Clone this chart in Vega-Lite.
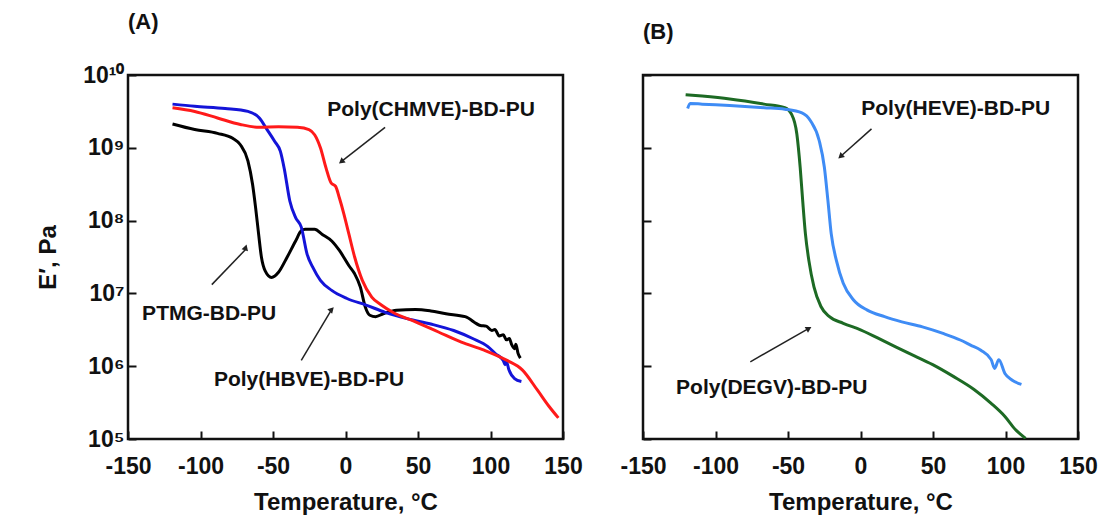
{
  "$schema": "https://vega.github.io/schema/vega-lite/v6.json",
  "background": "white",
  "padding": {"left": 35, "top": 9, "right": 5, "bottom": 0},
  "datasets": {
    "A": [
      {"series": "PTMG", "T": -119.3, "E": 2.12e9}, {"series": "PTMG", "T": -104, "E": 1.78e9}, {"series": "PTMG", "T": -88.3, "E": 1.58e9}, {"series": "PTMG", "T": -77.8, "E": 1.35e9}, {"series": "PTMG", "T": -72.5, "E": 1.10e9}, {"series": "PTMG", "T": -67.3, "E": 6.61e8}, {"series": "PTMG", "T": -64.1, "E": 3.16e8}, {"series": "PTMG", "T": -62, "E": 1.51e8}, {"series": "PTMG", "T": -59.9, "E": 6.46e7}, {"series": "PTMG", "T": -58, "E": 3.16e7}, {"series": "PTMG", "T": -55.4, "E": 2.04e7}, {"series": "PTMG", "T": -51, "E": 1.66e7}, {"series": "PTMG", "T": -46.2, "E": 1.95e7}, {"series": "PTMG", "T": -41, "E": 2.95e7}, {"series": "PTMG", "T": -34.4, "E": 5.25e7}, {"series": "PTMG", "T": -30.5, "E": 7.24e7}, {"series": "PTMG", "T": -27.8, "E": 7.59e7}, {"series": "PTMG", "T": -21.3, "E": 7.59e7}, {"series": "PTMG", "T": -16, "E": 6.46e7}, {"series": "PTMG", "T": -9.5, "E": 5.25e7}, {"series": "PTMG", "T": -4.2, "E": 3.89e7}, {"series": "PTMG", "T": 2.4, "E": 2.40e7}, {"series": "PTMG", "T": 6.3, "E": 1.86e7}, {"series": "PTMG", "T": 10.2, "E": 1.23e7}, {"series": "PTMG", "T": 13.7, "E": 6.46e6}, {"series": "PTMG", "T": 16.8, "E": 5.01e6}, {"series": "PTMG", "T": 20.8, "E": 4.79e6}, {"series": "PTMG", "T": 26, "E": 5.25e6}, {"series": "PTMG", "T": 35.2, "E": 5.89e6}, {"series": "PTMG", "T": 48.3, "E": 6.03e6}, {"series": "PTMG", "T": 58.8, "E": 5.75e6}, {"series": "PTMG", "T": 69.3, "E": 5.25e6}, {"series": "PTMG", "T": 82.5, "E": 4.79e6}, {"series": "PTMG", "T": 93, "E": 3.63e6}, {"series": "PTMG", "T": 97, "E": 3.55e6}, {"series": "PTMG", "T": 100.9, "E": 3.09e6}, {"series": "PTMG", "T": 103, "E": 3.2e6}, {"series": "PTMG", "T": 106, "E": 2.6e6}, {"series": "PTMG", "T": 108.8, "E": 2.7e6}, {"series": "PTMG", "T": 111, "E": 2.3e6}, {"series": "PTMG", "T": 113, "E": 2.4e6}, {"series": "PTMG", "T": 114.5, "E": 2.0e6}, {"series": "PTMG", "T": 116.6, "E": 1.74e6}, {"series": "PTMG", "T": 117.5, "E": 2.0e6}, {"series": "PTMG", "T": 119, "E": 1.5e6}, {"series": "PTMG", "T": 120.6, "E": 1.29e6},
      {"series": "HBVE", "T": -119.3, "E": 3.98e9}, {"series": "HBVE", "T": -104, "E": 3.72e9}, {"series": "HBVE", "T": -83, "E": 3.47e9}, {"series": "HBVE", "T": -67.3, "E": 3.16e9}, {"series": "HBVE", "T": -59.4, "E": 2.57e9}, {"series": "HBVE", "T": -54.1, "E": 1.78e9}, {"series": "HBVE", "T": -48.9, "E": 1.23e9}, {"series": "HBVE", "T": -44.9, "E": 8.91e8}, {"series": "HBVE", "T": -42.3, "E": 5.25e8}, {"series": "HBVE", "T": -38.4, "E": 1.86e8}, {"series": "HBVE", "T": -34.4, "E": 1.10e8}, {"series": "HBVE", "T": -30.5, "E": 8.13e7}, {"series": "HBVE", "T": -26.5, "E": 3.47e7}, {"series": "HBVE", "T": -22.6, "E": 2.29e7}, {"series": "HBVE", "T": -17.3, "E": 1.51e7}, {"series": "HBVE", "T": -9.5, "E": 1.10e7}, {"series": "HBVE", "T": 1, "E": 8.51e6}, {"series": "HBVE", "T": 14.2, "E": 6.92e6}, {"series": "HBVE", "T": 27.3, "E": 5.50e6}, {"series": "HBVE", "T": 43.1, "E": 4.47e6}, {"series": "HBVE", "T": 58.8, "E": 3.80e6}, {"series": "HBVE", "T": 74.6, "E": 3.09e6}, {"series": "HBVE", "T": 87.7, "E": 2.40e6}, {"series": "HBVE", "T": 98.2, "E": 1.86e6}, {"series": "HBVE", "T": 103.5, "E": 1.48e6}, {"series": "HBVE", "T": 108.8, "E": 1.20e6}, {"series": "HBVE", "T": 110, "E": 1.05e6}, {"series": "HBVE", "T": 111, "E": 1.15e6}, {"series": "HBVE", "T": 112.7, "E": 8.91e5}, {"series": "HBVE", "T": 116.6, "E": 6.76e5}, {"series": "HBVE", "T": 121.3, "E": 6.17e5},
      {"series": "CHMVE", "T": -119.3, "E": 3.55e9}, {"series": "CHMVE", "T": -104, "E": 3.16e9}, {"series": "CHMVE", "T": -88.3, "E": 2.57e9}, {"series": "CHMVE", "T": -72.5, "E": 2.09e9}, {"series": "CHMVE", "T": -59.4, "E": 1.91e9}, {"series": "CHMVE", "T": -46.2, "E": 1.95e9}, {"series": "CHMVE", "T": -33.1, "E": 1.91e9}, {"series": "CHMVE", "T": -25.2, "E": 1.78e9}, {"series": "CHMVE", "T": -21.3, "E": 1.51e9}, {"series": "CHMVE", "T": -17.3, "E": 1.0e9}, {"series": "CHMVE", "T": -13.4, "E": 5.25e8}, {"series": "CHMVE", "T": -10, "E": 3.31e8}, {"series": "CHMVE", "T": -6.8, "E": 2.95e8}, {"series": "CHMVE", "T": -4.2, "E": 2.04e8}, {"series": "CHMVE", "T": -1.1, "E": 1.23e8}, {"series": "CHMVE", "T": 2.4, "E": 6.46e7}, {"series": "CHMVE", "T": 6.3, "E": 3.16e7}, {"series": "CHMVE", "T": 11.6, "E": 1.51e7}, {"series": "CHMVE", "T": 18.1, "E": 8.91e6}, {"series": "CHMVE", "T": 24.7, "E": 6.92e6}, {"series": "CHMVE", "T": 32.6, "E": 5.50e6}, {"series": "CHMVE", "T": 48.3, "E": 4.07e6}, {"series": "CHMVE", "T": 64.1, "E": 2.95e6}, {"series": "CHMVE", "T": 79.9, "E": 2.14e6}, {"series": "CHMVE", "T": 95.6, "E": 1.66e6}, {"series": "CHMVE", "T": 111.4, "E": 1.20e6}, {"series": "CHMVE", "T": 121.9, "E": 8.91e5}, {"series": "CHMVE", "T": 132.4, "E": 4.68e5}, {"series": "CHMVE", "T": 140.3, "E": 2.82e5}, {"series": "CHMVE", "T": 146.8, "E": 1.95e5}
    ],
    "B": [
      {"series": "DEGV", "T": -120.6, "E": 5.37e9}, {"series": "DEGV", "T": -109.2, "E": 5.13e9}, {"series": "DEGV", "T": -90.2, "E": 4.68e9}, {"series": "DEGV", "T": -66.5, "E": 3.98e9}, {"series": "DEGV", "T": -52.2, "E": 3.55e9}, {"series": "DEGV", "T": -47.5, "E": 2.88e9}, {"series": "DEGV", "T": -43.9, "E": 1.55e9}, {"series": "DEGV", "T": -41.6, "E": 5.37e8}, {"series": "DEGV", "T": -39.9, "E": 1.91e8}, {"series": "DEGV", "T": -38, "E": 6.61e7}, {"series": "DEGV", "T": -35.6, "E": 2.82e7}, {"series": "DEGV", "T": -32.1, "E": 1.23e7}, {"series": "DEGV", "T": -27.3, "E": 6.61e6}, {"series": "DEGV", "T": -21.4, "E": 4.79e6}, {"series": "DEGV", "T": -11.9, "E": 3.89e6}, {"series": "DEGV", "T": 0, "E": 3.16e6}, {"series": "DEGV", "T": 16.6, "E": 2.19e6}, {"series": "DEGV", "T": 33.2, "E": 1.51e6}, {"series": "DEGV", "T": 49.8, "E": 1.05e6}, {"series": "DEGV", "T": 64, "E": 7.24e5}, {"series": "DEGV", "T": 78.3, "E": 4.79e5}, {"series": "DEGV", "T": 90.1, "E": 3.09e5}, {"series": "DEGV", "T": 99.6, "E": 2.04e5}, {"series": "DEGV", "T": 106.8, "E": 1.35e5}, {"series": "DEGV", "T": 113.9, "E": 1.02e5},
      {"series": "HEVE", "T": -119.2, "E": 3.47e9}, {"series": "HEVE", "T": -117.5, "E": 4.07e9}, {"series": "HEVE", "T": -109.2, "E": 3.98e9}, {"series": "HEVE", "T": -90.2, "E": 3.80e9}, {"series": "HEVE", "T": -66.5, "E": 3.55e9}, {"series": "HEVE", "T": -52.2, "E": 3.39e9}, {"series": "HEVE", "T": -40.4, "E": 3.02e9}, {"series": "HEVE", "T": -34.4, "E": 2.34e9}, {"series": "HEVE", "T": -28.5, "E": 1.26e9}, {"series": "HEVE", "T": -24.9, "E": 5.37e8}, {"series": "HEVE", "T": -22.5, "E": 1.91e8}, {"series": "HEVE", "T": -20.2, "E": 6.61e7}, {"series": "HEVE", "T": -16.6, "E": 2.82e7}, {"series": "HEVE", "T": -11.9, "E": 1.38e7}, {"series": "HEVE", "T": -4.8, "E": 8.13e6}, {"series": "HEVE", "T": 4.7, "E": 5.89e6}, {"series": "HEVE", "T": 16.6, "E": 4.79e6}, {"series": "HEVE", "T": 28.5, "E": 4.07e6}, {"series": "HEVE", "T": 42.7, "E": 3.47e6}, {"series": "HEVE", "T": 56.9, "E": 2.82e6}, {"series": "HEVE", "T": 68.8, "E": 2.29e6}, {"series": "HEVE", "T": 75.9, "E": 1.95e6}, {"series": "HEVE", "T": 83, "E": 1.66e6}, {"series": "HEVE", "T": 90.1, "E": 1.23e6}, {"series": "HEVE", "T": 92.5, "E": 9.33e5}, {"series": "HEVE", "T": 95.4, "E": 1.23e6}, {"series": "HEVE", "T": 99.6, "E": 7.94e5}, {"series": "HEVE", "T": 104.4, "E": 6.46e5}, {"series": "HEVE", "T": 111, "E": 5.62e5}
    ],
    "notesA": [
      {"label": "Poly(CHMVE)-BD-PU", "T": 59, "E": 3.3e9},
      {"label": "PTMG-BD-PU", "T": -94, "E": 5.25e6},
      {"label": "Poly(HBVE)-BD-PU", "T": -25.2, "E": 6.46e5}
    ],
    "notesB": [
      {"label": "Poly(HEVE)-BD-PU", "T": 65.7, "E": 3.39e9},
      {"label": "Poly(DEGV)-BD-PU", "T": -61.2, "E": 5.01e5}
    ],
    "arrowsA": [
      {"id": "CHMVE", "T": 27.3, "E": 1.91e9, "T2": -2.9, "E2": 6.46e8},
      {"id": "PTMG", "T": -92.2, "E": 1.32e7, "T2": -68.6, "E2": 4.07e7},
      {"id": "HBVE", "T": -30.5, "E": 1.2e6, "T2": -9.5, "E2": 6.03e6}
    ],
    "arrowsB": [
      {"id": "HEVE", "T": 7.6, "E": 1.82e9, "T2": -13.8, "E2": 7.59e8},
      {"id": "DEGV", "T": -76, "E": 1.15e6, "T2": -35.6, "E2": 3.31e6}
    ]
  },
  "spacing": 80,
  "bounds": "flush",
  "hconcat": [
    {
      "width": 435,
      "height": 364,
      "title": {"text": "(A)", "anchor": "start", "frame": "group", "offset": 30},
      "encoding": {
        "x": {"field": "T", "type": "quantitative", "scale": {"domain": [-150, 150], "nice": false},
              "axis": {"values": [-150, -100, -50, 0, 50, 100, 150], "title": "Temperature, °C", "labelExpr": "replace(datum.label, '−', '-')"}},
        "y": {"field": "E", "type": "quantitative", "scale": {"type": "log", "domain": [1e5, 1e10], "nice": false},
              "axis": {"values": [1e5, 1e6, 1e7, 1e8, 1e9, 1e10], "title": "E′, Pa",
                       "labelExpr": "datum.value > 5e9 ? '10¹⁰' : datum.value > 5e8 ? '10⁹' : datum.value > 5e7 ? '10⁸' : datum.value > 5e6 ? '10⁷' : datum.value > 5e5 ? '10⁶' : '10⁵'"}}
      },
      "layer": [
        {"data": {"name": "A"}, "mark": {"type": "line", "strokeWidth": 3, "clip": true, "interpolate": "monotone"},
         "encoding": {"color": {"field": "series", "type": "nominal", "legend": null,
            "scale": {"domain": ["PTMG", "HBVE", "CHMVE"], "range": ["#000000", "#1414d8", "#ff1a1a"]}}}},
        {"data": {"name": "arrowsA"}, "mark": {"type": "rule", "color": "#222222", "strokeWidth": 1.5},
         "encoding": {"x2": {"field": "T2"}, "y2": {"field": "E2"}}},
        {"data": {"name": "arrowsA"}, "mark": {"type": "point", "shape": "triangle-up", "filled": true, "color": "#222222", "size": 45, "opacity": 1},
         "encoding": {"x": {"field": "T2", "type": "quantitative"}, "y": {"field": "E2", "type": "quantitative"},
           "angle": {"field": "id", "type": "nominal", "legend": null, "scale": {"domain": ["CHMVE", "PTMG", "HBVE"], "range": [231.6, 43.9, 31]}}}},
        {"data": {"name": "notesA"}, "mark": {"type": "text", "fontSize": 21, "fontWeight": "bold", "font": "Liberation Sans", "color": "#111111", "align": "center", "baseline": "middle"},
         "encoding": {"text": {"field": "label"}}}
      ]
    },
    {
      "width": 435,
      "height": 364,
      "title": {"text": "(B)", "anchor": "start", "frame": "group", "offset": 30},
      "encoding": {
        "x": {"field": "T", "type": "quantitative", "scale": {"domain": [-150, 150], "nice": false},
              "axis": {"values": [-150, -100, -50, 0, 50, 100, 150], "title": "Temperature, °C", "labelExpr": "replace(datum.label, '−', '-')"}},
        "y": {"field": "E", "type": "quantitative", "scale": {"type": "log", "domain": [1e5, 1e10], "nice": false},
              "axis": {"values": [1e5, 1e6, 1e7, 1e8, 1e9, 1e10], "title": null, "labels": false}}
      },
      "layer": [
        {"data": {"name": "B"}, "mark": {"type": "line", "strokeWidth": 3, "clip": true, "interpolate": "monotone"},
         "encoding": {"color": {"field": "series", "type": "nominal", "legend": null,
            "scale": {"domain": ["HEVE", "DEGV"], "range": ["#3f8cf5", "#1d6a24"]}}}},
        {"data": {"name": "arrowsB"}, "mark": {"type": "rule", "color": "#222222", "strokeWidth": 1.5},
         "encoding": {"x2": {"field": "T2"}, "y2": {"field": "E2"}}},
        {"data": {"name": "arrowsB"}, "mark": {"type": "point", "shape": "triangle-up", "filled": true, "color": "#222222", "size": 45, "opacity": 1},
         "encoding": {"x": {"field": "T2", "type": "quantitative"}, "y": {"field": "E2", "type": "quantitative"},
           "angle": {"field": "id", "type": "nominal", "legend": null, "scale": {"domain": ["HEVE", "DEGV"], "range": [228.7, 60.4]}}}},
        {"data": {"name": "notesB"}, "mark": {"type": "text", "fontSize": 21, "fontWeight": "bold", "font": "Liberation Sans", "color": "#111111", "align": "center", "baseline": "middle"},
         "encoding": {"text": {"field": "label"}}}
      ]
    }
  ],
  "resolve": {"scale": {"color": "independent", "angle": "independent"}},
  "config": {
    "font": "Liberation Sans",
    "view": {"stroke": "#111111", "strokeWidth": 2.5},
    "title": {"fontSize": 22, "fontWeight": "bold", "font": "Liberation Sans", "color": "#111111"},
    "axis": {
      "domain": false,
      "grid": false,
      "ticks": true,
      "tickSize": -8,
      "tickWidth": 2,
      "tickColor": "#111111",
      "labelFont": "Liberation Sans",
      "labelFontSize": 23,
      "labelFontWeight": "bold",
      "labelColor": "#111111",
      "labelFlush": false,
      "labelOverlap": false,
      "titleFont": "Liberation Sans",
      "titleFontSize": 24,
      "titleFontWeight": "bold",
      "titleColor": "#111111"
    },
    "axisX": {"titlePadding": 12, "labelPadding": 24},
    "axisY": {"titlePadding": 22, "labelPadding": 12}
  }
}
